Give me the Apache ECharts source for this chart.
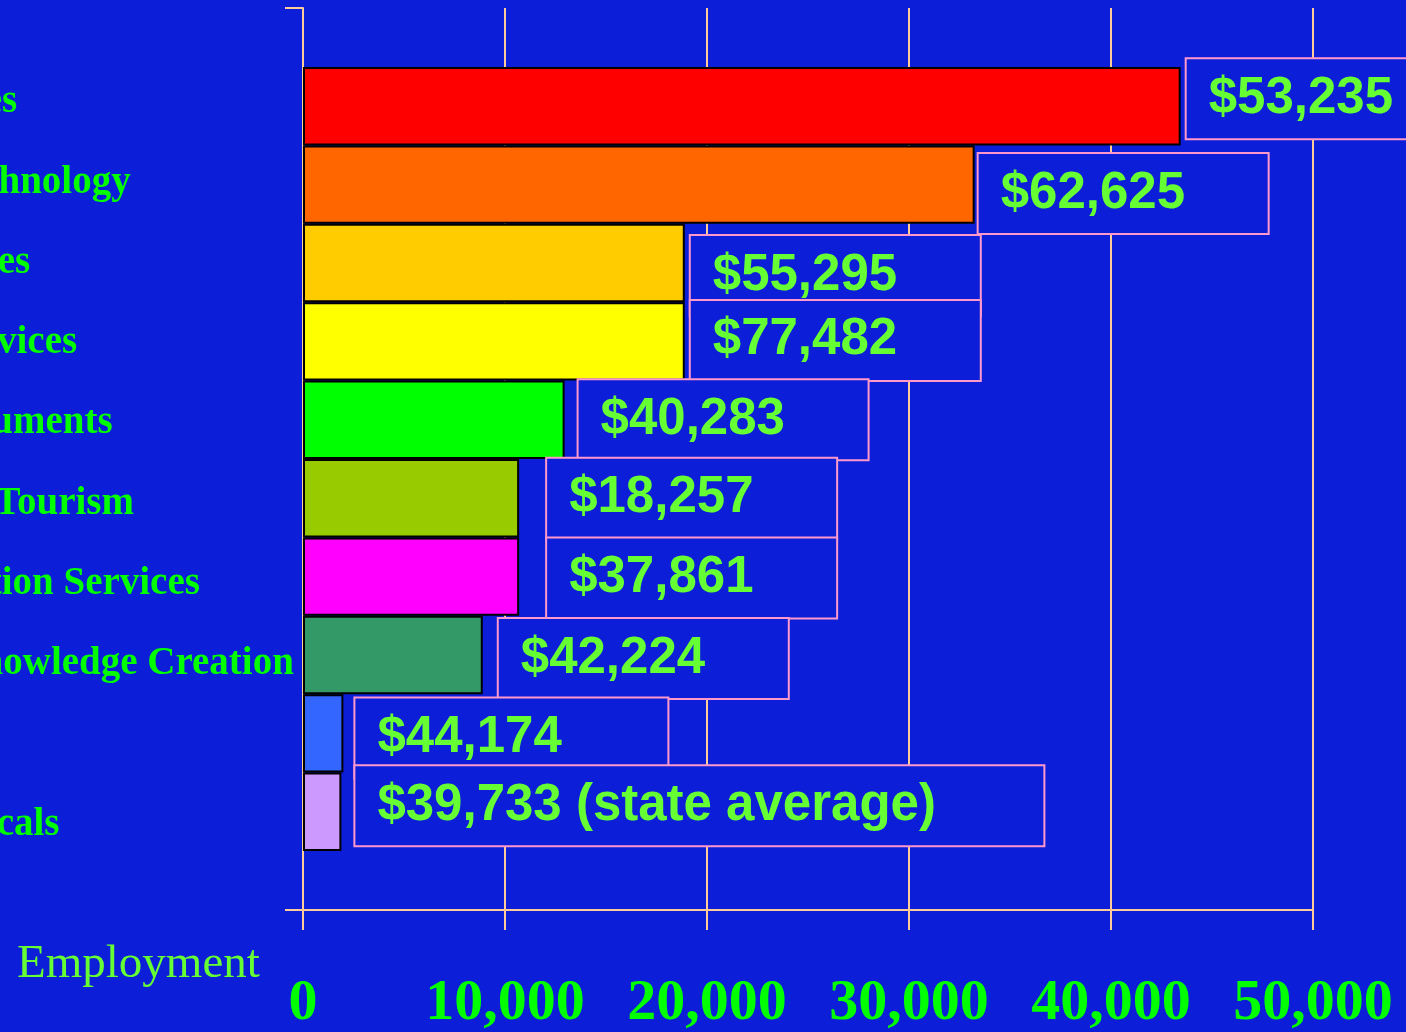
<!DOCTYPE html>
<html>
<head>
<meta charset="utf-8">
<title>Employment by cluster</title>
<script src="https://cdn.jsdelivr.net/npm/echarts@6/dist/echarts.min.js"></script>
<style>
  html, body { margin: 0; padding: 0; background: #0c1ed8; }
  #chart { width: 1406px; height: 1032px; }
</style>
</head>
<body>
<div id="chart"></div>
<script>
// clusters, top to bottom
const industries = [
  "Business Services",
  "Information Technology",
  "Financial Services",
  "Professional Services",
  "Analytical Instruments",
  "Hospitality and Tourism",
  "Telecommunication Services",
  "Education & Knowledge Creation",
  "Medical Devices",
  "Biopharmaceuticals"
];
const employment = [43450, 33250, 18900, 18900, 12950, 10700, 10700, 8900, 2000, 1900];
const wages = [
  "$53,235", "$62,625", "$55,295", "$77,482", "$40,283",
  "$18,257", "$37,861", "$42,224", "$44,174", "$39,733 (state average)"
];
const barColors = [
  "#ff0000", "#ff6600", "#ffcc00", "#ffff00", "#00ff00",
  "#99cc00", "#ff00ff", "#339966", "#3366ff", "#cc99ff"
];
const xTicks = [0, 10000, 20000, 30000, 40000, 50000];

// the wage boxes were placed by hand on the slide: nudge [dx, dy] and width
const boxShift = [[6, -7.5], [4, 9], [6, 12.5], [6, -1], [14, 0], [28, 0], [28, 1.5], [16, 3.5], [12, 4.5], [14, -6]];
const boxWidth = [289, 289, 289, 289, 289, 289, 289, 289, 312, 688];

const peach = "#ffcc99";
const xMin = xTicks[0];
const xMax = xTicks[xTicks.length - 1];
const xStep = xTicks[1] - xTicks[0];

const myChart = echarts.init(document.getElementById("chart"));

const barData = employment.map((v, i) => ({
  value: v,
  itemStyle: { color: barColors[i] },
  label: {
    formatter: wages[i],
    offset: boxShift[i],
    width: boxWidth[i] - 22
  }
}));

const option = {
  backgroundColor: "#0c1ed8",
  animation: false,
  title: {
    text: "Employment",
    left: 17,
    top: 941,
    padding: 0,
    textStyle: {
      fontFamily: "Liberation Serif",
      fontWeight: "normal",
      fontSize: 47,
      color: "#66ff33"
    }
  },
  grid: [
    // axes + grid lines
    { left: 303, right: 93, top: 8, bottom: 122, containLabel: false, outerBoundsMode: "none" },
    // bars
    { left: 303, right: 93, top: 67, bottom: 181, containLabel: false, outerBoundsMode: "none" },
    // category names
    { left: 303, right: 93, top: 62, bottom: 167, containLabel: false, outerBoundsMode: "none" }
  ],
  xAxis: [
    {
      gridIndex: 0,
      type: "value",
      min: xMin,
      max: xMax,
      interval: xStep,
      axisLine: { show: true, lineStyle: { color: peach, width: 2 } },
      axisTick: { show: true, length: 20, lineStyle: { color: peach, width: 2 } },
      splitLine: { show: true, lineStyle: { color: peach, width: 2 } },
      axisLabel: {
        margin: 65,
        fontFamily: "Liberation Serif",
        fontWeight: "bold",
        fontSize: 58,
        color: "#00ff00",
        formatter: (v) => v.toLocaleString("en-US")
      }
    },
    { gridIndex: 1, type: "value", min: xMin, max: xMax, show: false },
    { gridIndex: 2, type: "value", min: 0, max: 1, show: false }
  ],
  yAxis: [
    {
      gridIndex: 0,
      type: "value",
      min: 0,
      max: 1,
      interval: 1,
      axisLine: { show: true, lineStyle: { color: peach, width: 2 } },
      axisTick: { show: true, length: 18, lineStyle: { color: peach, width: 2 } },
      splitLine: { show: false },
      axisLabel: { show: false }
    },
    {
      gridIndex: 1,
      type: "category",
      inverse: true,
      data: industries,
      show: false
    },
    {
      gridIndex: 2,
      type: "category",
      inverse: true,
      data: industries,
      axisLine: { show: false },
      axisTick: { show: false },
      axisLabel: {
        interval: 0,
        align: "left",
        margin: 575,
        fontFamily: "Liberation Serif",
        fontWeight: "bold",
        fontSize: 39,
        color: "#00ff00"
      }
    }
  ],
  series: [
    {
      type: "bar",
      xAxisIndex: 1,
      yAxisIndex: 1,
      barCategoryGap: "0%",
      itemStyle: { borderColor: "#000", borderWidth: 2 },
      label: {
        show: true,
        position: "right",
        distance: 0,
        fontFamily: "Liberation Sans",
        fontWeight: "bold",
        fontSize: 51,
        color: "#66ff33",
        backgroundColor: "#0c1ed8",
        borderColor: "#ff99cc",
        borderWidth: 2,
        padding: [10, 0, 0, 22],
        lineHeight: 69,
        align: "left",
        verticalAlign: "middle"
      },
      data: barData
    }
  ]
};

option && myChart.setOption(option);
</script>
</body>
</html>
